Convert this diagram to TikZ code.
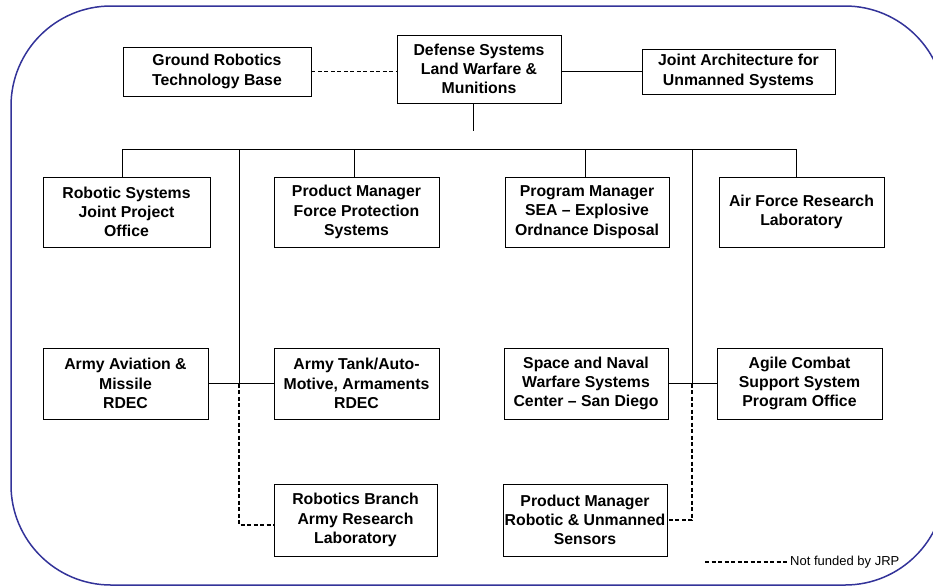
\documentclass[tikz,border=0pt]{standalone}
\usepackage{fontspec}
\setmainfont{Liberation Sans}
\begin{document}
\begin{tikzpicture}[x=1pt,y=-1pt,
  box/.style={draw=black, line width=0.9pt, fill=white, align=center, inner sep=0pt,
    font=\bfseries\fontsize{15.8}{19.2}\selectfont},
  link/.style={draw=black, line width=0.8pt},
  nofund/.style={draw=black, line width=1.2pt, dash pattern=on 4pt off 2.5pt},
  frame/.style={draw={rgb,255:red,51;green,51;blue,153}, line width=1.5pt, rounded corners=100pt},
  legend/.style={font=\fontsize{13}{15}\selectfont, inner sep=2pt}]
\useasboundingbox (0,0) rectangle (933,587);
\draw[frame] (11,6) rectangle (945,585);

% row 1
\node[box, minimum width=188, minimum height=49] (grb) at (217,71.5) {Ground Robotics\\Technology Base};
\node[box, minimum width=164, minimum height=68] (ds) at (479,69) {Defense Systems\\Land Warfare \&\\Munitions};
\node[box, minimum width=193, minimum height=45] (jaus) at (738.5,71.5) {Joint Architecture for\\Unmanned Systems};
% row 2
\node[box, minimum width=167, minimum height=70] (rsjpo) at (126.5,212) {Robotic Systems\\Joint Project\\Office};
\node[box, minimum width=165, minimum height=70] (pmfp) at (356.5,212) {Product Manager\\Force Protection\\Systems};
\node[box, minimum width=164, minimum height=70] (pmsea) at (587,212) {Program Manager\\SEA -- Explosive\\Ordnance Disposal};
\node[box, minimum width=165, minimum height=70] (afrl) at (801.5,212) {Air Force Research\\Laboratory};
% row 3
\node[box, minimum width=165, minimum height=71] (aamr) at (125.5,383.5) {Army Aviation \&\\Missile\\RDEC};
\node[box, minimum width=165, minimum height=71] (atar) at (356.5,383.5) {Army Tank/Auto-\\Motive, Armaments\\RDEC};
\node[box, minimum width=164, minimum height=71] (spawar) at (586,383.5) {Space and Naval\\Warfare Systems\\Center -- San Diego};
\node[box, minimum width=165, minimum height=71] (agile) at (799.5,383.5) {Agile Combat\\Support System\\Program Office};
% row 4
\node[box, minimum width=163, minimum height=72] (rbarl) at (355.5,520) {Robotics Branch\\Army Research\\Laboratory};
\node[box, minimum width=164, minimum height=72] (pmrus) at (585,520) {Product Manager\\Robotic \& Unmanned\\Sensors};

% top connectors
\draw[nofund] (grb.east) -- (grb.east -| ds.west);
\draw[link] (ds.east |- jaus.west) -- (jaus.west);
\coordinate (stem) at (473,131);
\draw[link] (ds.south -| stem) -- (stem);

% bus
\coordinate (b1) at (122,149);
\coordinate (b2) at (239,149);
\coordinate (b3) at (354,149);
\coordinate (b4) at (585,149);
\coordinate (b5) at (692,149);
\coordinate (b6) at (796,149);
\draw[link] (b1) -- (b6);
\draw[link] (b1) -- (b1 |- rsjpo.north);
\draw[link] (b3) -- (b3 |- pmfp.north);
\draw[link] (b4) -- (b4 |- pmsea.north);
\draw[link] (b6) -- (b6 |- afrl.north);

% left long branch
\draw[link] (b2) -- (b2 |- aamr.east);
\draw[link] (aamr.east) -- (atar.west);
\coordinate (rbin) at ([yshift=-5pt]rbarl.west);
\draw[nofund] (b2 |- aamr.east) -- (b2 |- rbin) -- (rbin);

% right long branch
\draw[link] (b5) -- (b5 |- spawar.east);
\draw[link] (spawar.east) -- (agile.west);
\draw[nofund] (b5 |- spawar.east) -- (b5 |- pmrus.east) -- (pmrus.east);

% legend
\node[legend, anchor=west] (leg) at (788,562) {Not funded by JRP};
\coordinate (legstart) at (705,562);
\draw[nofund] (legstart) -- (leg.west);
\end{tikzpicture}
\end{document}
